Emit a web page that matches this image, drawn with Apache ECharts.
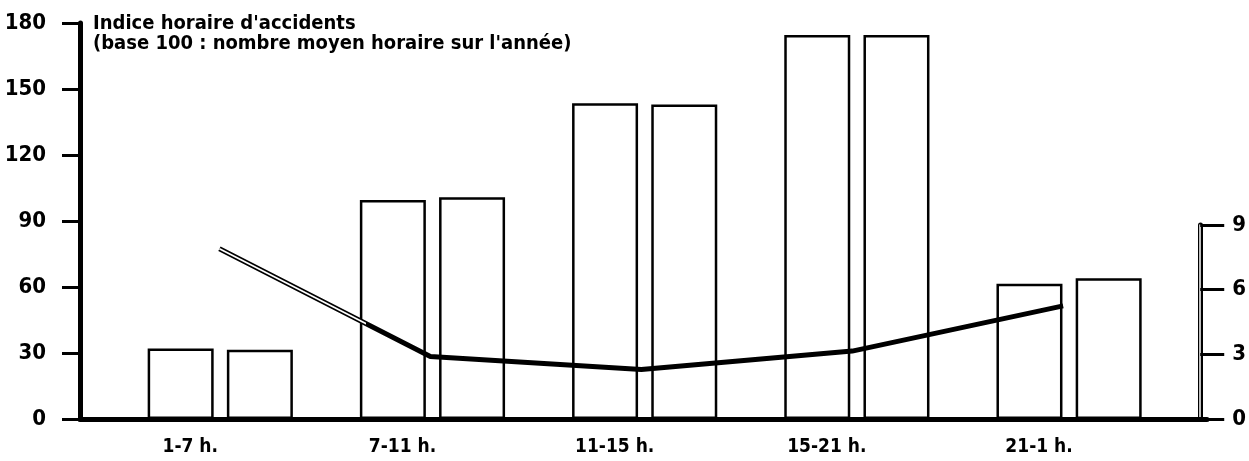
<!DOCTYPE html>
<html>
<head>
<meta charset="utf-8">
<script src="https://cdn.jsdelivr.net/npm/echarts@6/dist/echarts.min.js"></script>
<style>
  html, body { margin: 0; padding: 0; background: #fff; }
  #chart { width: 1249px; height: 461px; }
</style>
</head>
<body>
<div id="chart"></div>
<script>
// tranches horaires
const categories = ['1-7 h.', '7-11 h.', '11-15 h.', '15-21 h.', '21-1 h.'];
// indice horaire d'accidents, deux barres par tranche (échelle de gauche)
const barsFirst = [32, 99.5, 143.5, 174.5, 61.5];
const barsSecond = [31.5, 100.8, 143, 174.5, 64];
// courbe (échelle de droite, 0 à 9)
const lineValues = [7.9, 2.9, 2.3, 3.15, 5.25];
const leftTicks = [0, 30, 60, 90, 120, 150, 180];
const rightTicks = [0, 3, 6, 9];

const font = "'Liberation Sans Narrow', 'DejaVu Sans Condensed', sans-serif";

function pairs(values) {
  return values.map(function (v, i) { return [i, v]; });
}

const chart = echarts.init(document.getElementById('chart'));
const xMin = -0.661;
const xMax = 4.65;

const option = {
  animation: false,
  backgroundColor: '#fff',
  title: {
    text: "Indice horaire d'accidents\n(base 100 : nombre moyen horaire sur l'année)",
    left: 88,
    top: 9,
    textStyle: {
      fontFamily: font,
      fontWeight: 'bold',
      fontSize: 20,
      lineHeight: 20,
      color: '#000'
    }
  },
  grid: [
    { left: 80, right: 42, top: 23, bottom: 42 },
    { left: 80, right: 42, top: 225, bottom: 42 }
  ],
  xAxis: [
    {
      type: 'value',
      gridIndex: 0,
      min: xMin,
      max: xMax,
      splitLine: { show: false },
      axisLine: { show: true, onZero: false, lineStyle: { color: '#000', width: 5 } },
      axisTick: { show: false },
      axisLabel: {
        customValues: [0, 1, 2, 3, 4],
        formatter: function (v) { return categories[Math.round(v)]; },
        color: '#000',
        fontFamily: font,
        fontWeight: 'bold',
        fontSize: 19,
        margin: 19,
        padding: [0, 60, 0, 0]
      }
    },
    {
      type: 'value',
      gridIndex: 1,
      min: xMin,
      max: xMax,
      show: false
    }
  ],
  yAxis: [
    {
      type: 'value',
      gridIndex: 0,
      min: 0,
      max: 180,
      interval: 30,
      splitLine: { show: false },
      axisLine: { show: true, onZero: false, lineStyle: { color: '#000', width: 5 } },
      axisTick: { show: true, inside: false, length: 18, lineStyle: { color: '#000', width: 3 } },
      axisLabel: {
        customValues: leftTicks,
        color: '#000',
        fontFamily: font,
        fontWeight: 'bold',
        fontSize: 22,
        margin: 34
      }
    },
    {
      type: 'value',
      gridIndex: 1,
      position: 'right',
      min: 0,
      max: 9,
      interval: 3,
      splitLine: { show: false },
      axisLine: { show: true, onZero: false, lineStyle: { color: '#000', width: 5 } },
      axisTick: { show: true, inside: false, length: 24, lineStyle: { color: '#000', width: 3 } },
      axisLabel: {
        customValues: rightTicks,
        color: '#000',
        fontFamily: font,
        fontWeight: 'bold',
        fontSize: 22,
        margin: 32
      }
    },
    {
      // trait blanc au milieu de l'axe de droite (axe creux)
      type: 'value',
      gridIndex: 1,
      position: 'right',
      min: 0,
      max: 9,
      splitLine: { show: false },
      axisLine: { show: true, onZero: false, lineStyle: { color: '#fff', width: 1.5 } },
      axisTick: { show: false },
      axisLabel: { show: false }
    }
  ],
  series: [
    {
      type: 'bar',
      data: pairs(barsFirst),
      barWidth: 66,
      barGap: '20%',
      itemStyle: { color: '#fff', borderColor: '#000', borderWidth: 2.5 }
    },
    {
      type: 'bar',
      data: pairs(barsSecond),
      barWidth: 66,
      barGap: '20%',
      itemStyle: { color: '#fff', borderColor: '#000', borderWidth: 2.5 }
    },
    {
      type: 'line',
      xAxisIndex: 1,
      yAxisIndex: 1,
      data: pairs(lineValues),
      showSymbol: false,
      z: 5,
      lineStyle: { color: '#000', width: 5, cap: 'butt' }
    },
    {
      // premier segment creux jusqu'à la barre
      type: 'line',
      xAxisIndex: 1,
      yAxisIndex: 1,
      data: pairs(lineValues.slice(0, 2)),
      showSymbol: false,
      z: 6,
      lineStyle: {
        width: 1.8,
        cap: 'butt',
        color: new echarts.graphic.LinearGradient(0, 0, 1, 0, [
          { offset: 0, color: '#fff' },
          { offset: 0.69, color: '#fff' },
          { offset: 0.69, color: 'rgba(255,255,255,0)' },
          { offset: 1, color: 'rgba(255,255,255,0)' }
        ])
      }
    }
  ]
};

chart.setOption(option);
</script>
</body>
</html>
